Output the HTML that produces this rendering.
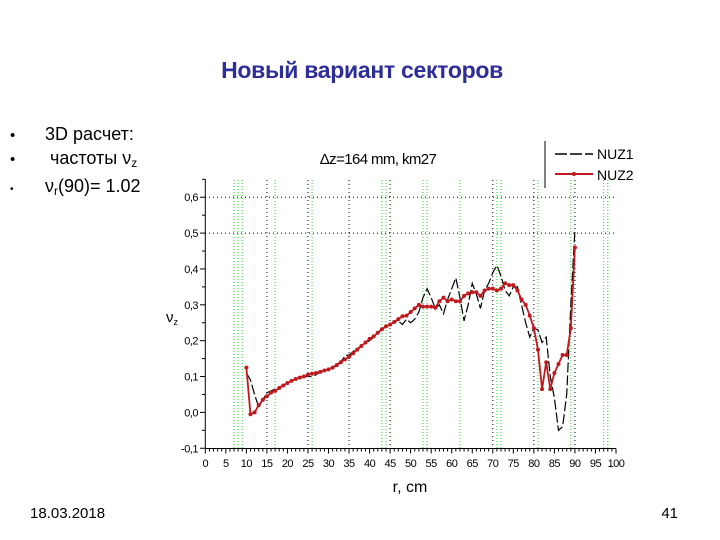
<!DOCTYPE html>
<html><head><meta charset="utf-8"><style>
body{margin:0;width:720px;height:540px;background:#fff;overflow:hidden;font-family:"Liberation Sans","Noto Sans CJK SC",sans-serif;}
svg{position:absolute;left:0;top:0}
</style></head><body>
<svg id="c" width="720" height="540">
<text x="362" y="78" text-anchor="middle" font-size="23" font-weight="bold" fill="#2e2e9a" letter-spacing="-0.3">Новый вариант секторов</text>
<g font-size="18" fill="#000">
<text x="10" y="140" font-size="15">•</text><text x="45" y="140">3D расчет:</text>
<text x="10" y="164" font-size="15">•</text><text x="50" y="164">частоты ν<tspan font-size="12" dy="3">z</tspan></text>
<text x="10" y="192" font-size="10">•</text><text x="45" y="192">ν<tspan font-size="12" dy="3">r</tspan><tspan dy="-3">(90)= 1.02</tspan></text>
</g>
<text x="30" y="518" font-size="15">18.03.2018</text>
<text x="678" y="518" font-size="15" text-anchor="end">41</text>
<text x="378" y="164" font-size="15" text-anchor="middle" letter-spacing="-0.6">Δz=164 mm, km27</text>
<text x="410" y="492" font-size="16" text-anchor="middle">r, cm</text>
<text x="172" y="322" font-size="15" text-anchor="middle">ν<tspan font-size="9" dy="3">z</tspan></text>
<g>
<line x1="545" y1="141" x2="545" y2="188" stroke="#000"/>
<line x1="555" y1="154" x2="593" y2="154" stroke="#000" stroke-width="1.5" stroke-dasharray="12,3"/>
<text x="597" y="159" font-size="14">NUZ1</text>
<line x1="555" y1="174" x2="593" y2="174" stroke="#c0191e" stroke-width="2"/>
<circle cx="574" cy="174" r="2" fill="#c0191e"/>
<text x="597" y="180" font-size="14">NUZ2</text>
</g>
<g id="plot"></g>
</svg>
<script>
const xTicks=[0,5,10,15,20,25,30,35,40,45,50,55,60,65,70,75,80,85,90,95,100];
const yTicks=[-0.1,0.0,0.1,0.2,0.3,0.4,0.5,0.6];
const blackGrid=[15,25,35,45,70,80,90];
const greenGrid=[7,8,9,17,26,43,44,53,54,62,71,72,81,89,97,98];
const rVals=[10,11,12,13,14,15,16,17,18,19,20,21,22,23,24,25,26,27,28,29,30,31,32,33,34,35,36,37,38,39,40,41,42,43,44,45,46,47,48,49,50,51,52,53,54,55,56,57,58,59,60,61,62,63,64,65,66,67,68,69,70,71,72,73,74,75,76,77,78,79,80,81,82,83,84,85,86,87,88,89,90];
const nuz1=[0.11,0.09,0.05,0.015,0.035,0.055,0.06,0.065,0.07,0.075,0.082,0.088,0.093,0.097,0.1,0.1,0.1,0.105,0.113,0.117,0.12,0.125,0.135,0.14,0.158,0.16,0.17,0.178,0.185,0.195,0.2,0.21,0.222,0.232,0.24,0.245,0.252,0.255,0.245,0.26,0.25,0.26,0.28,0.32,0.345,0.32,0.29,0.3,0.275,0.315,0.345,0.375,0.32,0.255,0.3,0.36,0.33,0.29,0.34,0.36,0.39,0.41,0.38,0.34,0.325,0.35,0.35,0.3,0.25,0.21,0.235,0.23,0.195,0.21,0.1,0.04,-0.05,-0.04,0.05,0.3,0.51];
const nuz2=[0.125,-0.005,0.0,0.02,0.035,0.045,0.055,0.06,0.068,0.075,0.082,0.088,0.093,0.097,0.1,0.105,0.108,0.11,0.113,0.117,0.12,0.125,0.132,0.14,0.148,0.155,0.165,0.175,0.185,0.195,0.205,0.212,0.222,0.232,0.24,0.245,0.252,0.26,0.268,0.27,0.28,0.29,0.3,0.295,0.295,0.295,0.292,0.31,0.32,0.31,0.315,0.31,0.31,0.325,0.332,0.335,0.335,0.325,0.34,0.345,0.345,0.34,0.345,0.36,0.355,0.355,0.34,0.315,0.3,0.27,0.235,0.175,0.065,0.14,0.065,0.11,0.135,0.16,0.16,0.235,0.46];
const X=r=>205.3+r*4.107;
const Y=v=>412.4-v*358.6;
const g=document.getElementById('plot');
const NS='http://www.w3.org/2000/svg';
function mk(t,a){const e=document.createElementNS(NS,t);for(const k in a)e.setAttribute(k,a[k]);g.appendChild(e);return e;}
greenGrid.forEach(r=>{const e=mk('line',{x1:X(r),x2:X(r),y1:180,y2:448,stroke:'#3c3','stroke-dasharray':'1,2'});

});
blackGrid.forEach(r=>{const e=mk('line',{x1:X(r),x2:X(r),y1:180,y2:448,stroke:'#000','stroke-dasharray':'1,3'});

});
[0.6,0.5].forEach(v=>{const e=mk('line',{x1:205,x2:X(100),y1:Y(v),y2:Y(v),stroke:'#000','stroke-dasharray':'1,3'});

});
let e=mk('line',{x1:205.3,x2:205.3,y1:179,y2:448.5,stroke:'#000'});


e=mk('line',{x1:205.3,x2:X(100),y1:448.5,y2:448.5,stroke:'#000'});


for(let r=0;r<=100;r++){mk('line',{x1:X(r),x2:X(r),y1:448.5,y2:448.5+(r%5?3:5),stroke:'#000'});}
xTicks.forEach(r=>{const t=mk('text',{x:X(r),y:467,'font-size':11,'text-anchor':'middle','letter-spacing':'-0.5'});t.textContent=r;

});
yTicks.forEach(v=>{mk('line',{x1:200,x2:205.3,y1:Y(v),y2:Y(v),stroke:'#000'});
const t=mk('text',{x:198,y:Y(v)+4,'font-size':11,'text-anchor':'end','letter-spacing':'-0.5'});t.textContent=v.toFixed(1).replace('.',',');

});
for(let v=-0.05;v<0.65;v+=0.1)mk('line',{x1:202,x2:205.3,y1:Y(v),y2:Y(v),stroke:'#000'});
const p1=rVals.map((r,i)=>X(r)+','+Y(nuz1[i])).join(' ');
e=mk('polyline',{points:p1,fill:'none',stroke:'#000','stroke-width':1.2,'stroke-dasharray':'10,3'});


const p2=rVals.map((r,i)=>X(r)+','+Y(nuz2[i])).join(' ');
e=mk('polyline',{points:p2,fill:'none',stroke:'#c0191e','stroke-width':1.8});


rVals.forEach((r,i)=>{const c=mk('circle',{cx:X(r),cy:Y(nuz2[i]),r:2,fill:'#c0191e'});

});
</script>
</body></html>
